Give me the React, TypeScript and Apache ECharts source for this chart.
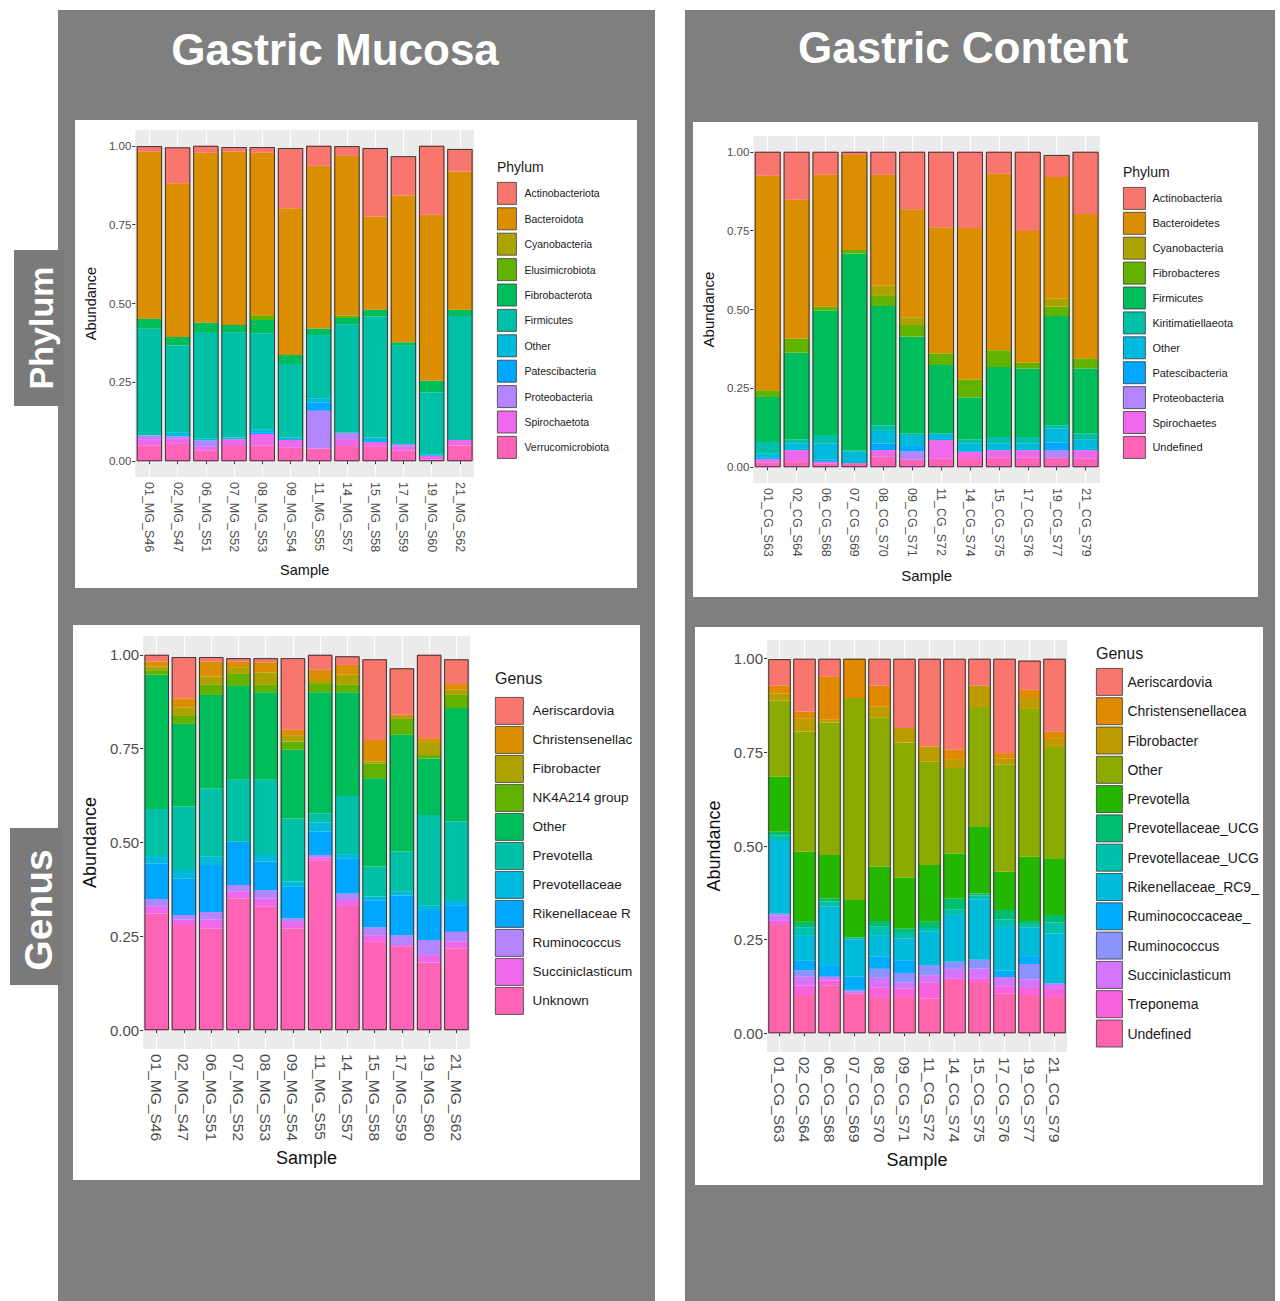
import React, { useEffect, useRef } from "react";
import * as echarts from "echarts";

const FONT = '"Liberation Sans", Arial, Helvetica, sans-serif';

// ---------- samples ----------
const mucosaSamples = [
  "01_MG_S46", "02_MG_S47", "06_MG_S51", "07_MG_S52", "08_MG_S53", "09_MG_S54",
  "11_MG_S55", "14_MG_S57", "15_MG_S58", "17_MG_S59", "19_MG_S60", "21_MG_S62",
];
const contentSamples = [
  "01_CG_S63", "02_CG_S64", "06_CG_S68", "07_CG_S69", "08_CG_S70", "09_CG_S71",
  "11_CG_S72", "14_CG_S74", "15_CG_S75", "17_CG_S76", "19_CG_S77", "21_CG_S79",
];

// ---------- phylum, gastric mucosa ----------
const mucosaPhyla = [
  "Actinobacteriota", "Bacteroidota", "Cyanobacteria", "Elusimicrobiota", "Fibrobacterota",
  "Firmicutes", "Other", "Patescibacteria", "Proteobacteria", "Spirochaetota", "Verrucomicrobiota",
];
const mucosaPhylumValues = [
  [0.018, 0.114, 0.022, 0.014, 0.018, 0.191, 0.063, 0.031, 0.217, 0.125, 0.219, 0.072],
  [0.529, 0.487, 0.539, 0.55, 0.515, 0.465, 0.516, 0.506, 0.296, 0.465, 0.526, 0.438],
  [0, 0, 0, 0, 0, 0, 0, 0, 0, 0, 0, 0],
  [0, 0, 0, 0, 0.015, 0, 0, 0.008, 0, 0, 0, 0],
  [0.032, 0.027, 0.032, 0.023, 0.042, 0.029, 0.021, 0.02, 0.021, 0.011, 0.037, 0.02],
  [0.338, 0.275, 0.336, 0.334, 0.306, 0.233, 0.2, 0.344, 0.384, 0.312, 0.196, 0.393],
  [0, 0.013, 0.005, 0.005, 0.008, 0.008, 0.015, 0, 0.014, 0, 0.005, 0],
  [0, 0, 0, 0, 0.006, 0, 0.025, 0, 0, 0, 0, 0],
  [0.012, 0.008, 0.02, 0, 0, 0, 0.12, 0.02, 0, 0.008, 0, 0],
  [0.02, 0.016, 0.012, 0.022, 0.036, 0.024, 0, 0.022, 0.015, 0.012, 0.011, 0.017],
  [0.05, 0.055, 0.034, 0.048, 0.05, 0.043, 0.04, 0.048, 0.046, 0.034, 0.006, 0.05],
];

// ---------- phylum, gastric content ----------
const contentPhyla = [
  "Actinobacteria", "Bacteroidetes", "Cyanobacteria", "Fibrobacteres", "Firmicutes",
  "Kiritimatiellaeota", "Other", "Patescibacteria", "Proteobacteria", "Spirochaetes", "Undefined",
];
const contentPhylumValues = [
  [0.076, 0.152, 0.073, 0.01, 0.073, 0.182, 0.239, 0.242, 0.07, 0.251, 0.07, 0.197],
  [0.68, 0.44, 0.418, 0.301, 0.352, 0.343, 0.4, 0.48, 0.559, 0.418, 0.385, 0.458],
  [0, 0, 0, 0, 0.032, 0.024, 0, 0, 0, 0, 0.026, 0],
  [0.021, 0.045, 0.012, 0.012, 0.032, 0.037, 0.037, 0.057, 0.053, 0.018, 0.03, 0.032],
  [0.143, 0.275, 0.395, 0.623, 0.378, 0.307, 0.217, 0.133, 0.222, 0.217, 0.346, 0.206],
  [0.037, 0.012, 0.027, 0.005, 0.018, 0.005, 0, 0.012, 0.02, 0.02, 0.01, 0.02],
  [0.013, 0.022, 0.05, 0.036, 0.04, 0.035, 0.021, 0.027, 0.022, 0.022, 0.045, 0.033],
  [0.005, 0, 0.008, 0, 0.021, 0.017, 0, 0, 0, 0, 0.024, 0],
  [0, 0, 0, 0, 0, 0.025, 0, 0, 0, 0, 0.024, 0],
  [0.01, 0.035, 0.005, 0, 0.021, 0, 0.059, 0.02, 0.024, 0.024, 0, 0.027],
  [0.015, 0.019, 0.012, 0.013, 0.033, 0.025, 0.027, 0.029, 0.03, 0.03, 0.03, 0.027],
];

// ---------- genus, gastric mucosa ----------
const mucosaGenera = [
  "Aeriscardovia", "Christensenellaceae R-7 group", "Fibrobacter", "NK4A214 group", "Other",
  "Prevotella", "Prevotellaceae UCG-001", "Rikenellaceae RC9 gut group", "Ruminococcus",
  "Succiniclasticum", "Unknown",
];
const mucosaGenusValues = [
  [0.018, 0.11, 0.012, 0.009, 0.011, 0.191, 0.04, 0.023, 0.215, 0.124, 0.222, 0.066],
  [0.013, 0.024, 0.04, 0.015, 0.027, 0.016, 0.027, 0.026, 0.057, 0.009, 0.01, 0.015],
  [0.01, 0.023, 0.022, 0.018, 0.033, 0.015, 0.011, 0.027, 0.005, 0, 0.035, 0.014],
  [0.012, 0.021, 0.027, 0.032, 0.02, 0.022, 0.022, 0.02, 0.04, 0.044, 0.009, 0.035],
  [0.358, 0.22, 0.249, 0.25, 0.233, 0.183, 0.322, 0.276, 0.235, 0.311, 0.151, 0.302],
  [0.125, 0.169, 0.182, 0.165, 0.2, 0.168, 0.025, 0.155, 0.08, 0.107, 0.24, 0.209],
  [0.02, 0.023, 0.022, 0, 0.018, 0.014, 0.024, 0.011, 0.01, 0.01, 0.013, 0.014],
  [0.095, 0.097, 0.125, 0.115, 0.076, 0.084, 0.062, 0.094, 0.072, 0.106, 0.08, 0.071],
  [0.02, 0.012, 0.02, 0.018, 0.022, 0.01, 0.006, 0.017, 0.021, 0.026, 0.04, 0.026],
  [0.018, 0.015, 0.024, 0.018, 0.022, 0.017, 0.008, 0.016, 0.017, 0.003, 0.02, 0.018],
  [0.311, 0.28, 0.271, 0.351, 0.329, 0.271, 0.453, 0.331, 0.236, 0.224, 0.18, 0.218],
];

// ---------- genus, gastric content ----------
const contentGenera = [
  "Aeriscardovia", "Christensenellaceae_R-7_group", "Fibrobacter", "Other", "Prevotella",
  "Prevotellaceae_UCG-001", "Prevotellaceae_UCG-003", "Rikenellaceae_RC9_gut_group",
  "Ruminococcaceae_NK4A214_group", "Ruminococcus", "Succiniclasticum", "Treponema", "Undefined",
];
const contentGenusValues = [
  [0.071, 0.141, 0.047, 0, 0.072, 0.185, 0.234, 0.243, 0.072, 0.252, 0.078, 0.194],
  [0.021, 0.018, 0.116, 0.105, 0.056, 0, 0, 0.025, 0, 0.015, 0.022, 0.02],
  [0.019, 0.035, 0.007, 0, 0.028, 0.039, 0.041, 0.024, 0.057, 0.016, 0.029, 0.022],
  [0.203, 0.321, 0.354, 0.539, 0.399, 0.36, 0.276, 0.228, 0.318, 0.286, 0.395, 0.297],
  [0.147, 0.187, 0.116, 0.1, 0.145, 0.136, 0.151, 0.12, 0.18, 0.102, 0.171, 0.151],
  [0.01, 0.015, 0.008, 0, 0.015, 0.012, 0.017, 0.03, 0.005, 0.025, 0.008, 0.02],
  [0.012, 0.021, 0.014, 0.005, 0.023, 0.015, 0.01, 0.014, 0.01, 0.02, 0.01, 0.03],
  [0.196, 0.067, 0.156, 0.1, 0.057, 0.058, 0.089, 0.125, 0.162, 0.116, 0.076, 0.133],
  [0, 0.027, 0.031, 0.035, 0.033, 0.034, 0, 0, 0, 0.018, 0.021, 0],
  [0.005, 0.016, 0, 0.005, 0.024, 0.026, 0.027, 0.019, 0.023, 0, 0.041, 0],
  [0.015, 0.024, 0.01, 0.005, 0.025, 0.015, 0.02, 0.025, 0.026, 0.026, 0.023, 0.015],
  [0.011, 0.026, 0.013, 0, 0.026, 0.023, 0.042, 0.005, 0.01, 0.018, 0.019, 0.021],
  [0.289, 0.102, 0.128, 0.106, 0.097, 0.097, 0.093, 0.142, 0.137, 0.106, 0.102, 0.097],
];

// y-axis ticks
const abundanceTicks = [0, 0.25, 0.5, 0.75, 1];

// ggplot2 default hue palettes
const hue11 = [
  "#F8766D", "#DB8E00", "#AEA200", "#64B200", "#00BD5C", "#00C1A7",
  "#00BADE", "#00A6FF", "#B385FF", "#EF67EB", "#FF63B6",
];
const hue13 = [
  "#F8766D", "#E18A00", "#BE9C00", "#8CAB00", "#24B700", "#00BE70", "#00C1AB",
  "#00BBDA", "#00ACFC", "#8B93FF", "#D575FE", "#F962DD", "#FF65AC",
];

interface Layout {
  box: { left: number; top: number; width: number; height: number };
  grid: { left: number; top: number; width: number; height: number };
  tickFont: number;
  xLabelFont: number;
  nameFont: number;
  xNameGap: number;
  yNameGap: number;
  legendLeft: number;
  legendTop: number;
  keyW: number;
  keyH: number;
  keyGap: number;
  legendFont: number;
  legendPad: number;
  legendTextWidth: number;
  legendTitleTop: number;
  legendTitleFont: number;
}

interface PanelSpec {
  samples: string[];
  taxa: string[];
  values: number[][];
  colors: string[];
  legendTitle: string;
  layout: Layout;
}

function panelOption(p: PanelSpec): any {
  const L = p.layout;
  const totals = p.samples.map((_, i) =>
    Number(p.values.reduce((s, row) => s + row[i], 0).toFixed(4))
  );
  const series: any[] = [];
  // first taxon sits on top of the stack, so push from the last one
  for (let k = p.taxa.length - 1; k >= 0; k--) {
    series.push({
      type: "bar",
      name: p.taxa[k],
      stack: "abundance",
      data: p.values[k],
      barCategoryGap: "10%",
      barGap: "-100%",
      itemStyle: { color: p.colors[k] },
      emphasis: { disabled: true },
    });
  }
  // dark outline around each full bar
  series.push({
    type: "bar",
    name: "outline",
    data: totals,
    barCategoryGap: "10%",
    barGap: "-100%",
    silent: true,
    z: 3,
    itemStyle: { color: "rgba(0,0,0,0)", borderColor: "#3a3a3a", borderWidth: 1 },
    emphasis: { disabled: true },
  });

  return {
    animation: false,
    backgroundColor: "#ffffff",
    textStyle: { fontFamily: FONT },
    title: {
      text: p.legendTitle,
      left: L.legendLeft,
      top: L.legendTitleTop,
      padding: 0,
      textStyle: { fontFamily: FONT, fontSize: L.legendTitleFont, fontWeight: "normal", color: "#1a1a1a" },
    },
    legend: {
      orient: "vertical",
      left: L.legendLeft,
      top: L.legendTop,
      padding: 0,
      icon: "rect",
      itemWidth: L.keyW,
      itemHeight: L.keyH,
      itemGap: L.keyGap,
      selectedMode: false,
      data: p.taxa,
      itemStyle: { borderColor: "#3a3a3a", borderWidth: 0.8 },
      textStyle: {
        fontFamily: FONT,
        fontSize: L.legendFont,
        color: "#1a1a1a",
        padding: [0, 0, 0, L.legendPad],
        width: L.legendTextWidth,
        overflow: "truncate",
        ellipsis: "",
      },
    },
    grid: {
      left: L.grid.left,
      top: L.grid.top,
      width: L.grid.width,
      height: L.grid.height,
      show: true,
      backgroundColor: "#EBEBEB",
      borderWidth: 0,
    },
    xAxis: {
      type: "category",
      data: p.samples,
      name: "Sample",
      nameLocation: "middle",
      nameGap: L.xNameGap,
      nameTextStyle: { fontFamily: FONT, fontSize: L.nameFont, color: "#111" },
      axisLine: { show: false },
      axisTick: { show: true, alignWithLabel: true, length: 3, lineStyle: { color: "#333" } },
      axisLabel: { rotate: -90, interval: 0, margin: 5, fontSize: L.xLabelFont, color: "#4D4D4D" },
      splitLine: { show: true, alignWithLabel: true, lineStyle: { color: "#ffffff", width: 1 } },
    },
    yAxis: {
      type: "value",
      min: -0.05,
      max: 1.05,
      name: "Abundance",
      nameLocation: "middle",
      nameRotate: 90,
      nameGap: L.yNameGap,
      nameTextStyle: { fontFamily: FONT, fontSize: L.nameFont, color: "#111" },
      axisLine: { show: false },
      axisTick: { show: true, length: 3, customValues: abundanceTicks, lineStyle: { color: "#333" } },
      axisLabel: {
        customValues: abundanceTicks,
        margin: 4,
        fontSize: L.tickFont,
        color: "#4D4D4D",
        formatter: (v: number) => v.toFixed(2),
      },
      splitLine: { show: false },
    },
    series,
  };
}

const panels: PanelSpec[] = [
  {
    samples: mucosaSamples,
    taxa: mucosaPhyla,
    values: mucosaPhylumValues,
    colors: hue11,
    legendTitle: "Phylum",
    layout: {
      box: { left: 75, top: 120, width: 562, height: 468 },
      grid: { left: 57, top: 10, width: 342, height: 347 },
      tickFont: 11.5, xLabelFont: 12.5, nameFont: 14.5,
      xNameGap: 85, yNameGap: 34,
      legendLeft: 422, legendTop: 62, keyW: 19, keyH: 22, keyGap: 2.6,
      legendFont: 10.5, legendPad: 3, legendTextWidth: 110,
      legendTitleTop: 40, legendTitleFont: 14,
    },
  },
  {
    samples: contentSamples,
    taxa: contentPhyla,
    values: contentPhylumValues,
    colors: hue11,
    legendTitle: "Phylum",
    layout: {
      box: { left: 693, top: 122, width: 565, height: 475 },
      grid: { left: 59, top: 14, width: 348, height: 347 },
      tickFont: 11.5, xLabelFont: 12.5, nameFont: 15,
      xNameGap: 85, yNameGap: 36,
      legendLeft: 430, legendTop: 65, keyW: 22, keyH: 22, keyGap: 2.1,
      legendFont: 11, legendPad: 2, legendTextWidth: 110,
      legendTitleTop: 43, legendTitleFont: 14,
    },
  },
  {
    samples: mucosaSamples,
    taxa: mucosaGenera,
    values: mucosaGenusValues,
    colors: hue11,
    legendTitle: "Genus",
    layout: {
      box: { left: 73, top: 625, width: 567, height: 555 },
      grid: { left: 70, top: 11, width: 327, height: 413 },
      tickFont: 15, xLabelFont: 15.5, nameFont: 18,
      xNameGap: 99, yNameGap: 44,
      legendLeft: 422, legendTop: 72, keyW: 28, keyH: 27, keyGap: 1.2,
      legendFont: 13.5, legendPad: 4, legendTextWidth: 104,
      legendTitleTop: 45, legendTitleFont: 16,
    },
  },
  {
    samples: contentSamples,
    taxa: contentGenera,
    values: contentGenusValues,
    colors: hue13,
    legendTitle: "Genus",
    layout: {
      box: { left: 695, top: 627, width: 568, height: 558 },
      grid: { left: 72, top: 13, width: 300, height: 412 },
      tickFont: 15, xLabelFont: 15.5, nameFont: 18,
      xNameGap: 99, yNameGap: 44,
      legendLeft: 401, legendTop: 41, keyW: 26, keyH: 27, keyGap: 1.5,
      legendFont: 14, legendPad: 0, legendTextWidth: 134,
      legendTitleTop: 18, legendTitleFont: 16,
    },
  },
];

// gray backdrop, column titles and row tabs
const backdropOption: any = {
  animation: false,
  backgroundColor: "#ffffff",
  graphic: [
    { type: "rect", shape: { x: 58, y: 10, width: 597, height: 1291 }, style: { fill: "#7F7F7F" } },
    { type: "rect", shape: { x: 685, y: 10, width: 590, height: 1291 }, style: { fill: "#7F7F7F" } },
    { type: "rect", shape: { x: 14, y: 250, width: 50, height: 156 }, style: { fill: "#7A7A7A" } },
    { type: "rect", shape: { x: 10, y: 828, width: 52, height: 157 }, style: { fill: "#7A7A7A" } },
    {
      type: "text", x: 335, y: 49,
      style: { text: "Gastric Mucosa", fill: "#ffffff", fontFamily: FONT, fontWeight: "bold", fontSize: 44, align: "center", verticalAlign: "middle" },
    },
    {
      type: "text", x: 963, y: 47,
      style: { text: "Gastric Content", fill: "#ffffff", fontFamily: FONT, fontWeight: "bold", fontSize: 44, align: "center", verticalAlign: "middle" },
    },
    {
      type: "text", x: 41, y: 328, rotation: Math.PI / 2,
      style: { text: "Phylum", fill: "#ffffff", fontFamily: FONT, fontWeight: "bold", fontSize: 34, align: "center", verticalAlign: "middle" },
    },
    {
      type: "text", x: 38, y: 910, rotation: Math.PI / 2,
      style: { text: "Genus", fill: "#ffffff", fontFamily: FONT, fontWeight: "bold", fontSize: 39, align: "center", verticalAlign: "middle" },
    },
  ],
};

function EChart({ option, style }: { option: any; style: React.CSSProperties }) {
  const ref = useRef<HTMLDivElement>(null);
  useEffect(() => {
    if (!ref.current) return;
    const chart = echarts.init(ref.current, undefined, { renderer: "svg" });
    chart.setOption(option);
    return () => chart.dispose();
  }, [option]);
  return <div ref={ref} style={{ ...style, overflow: "hidden" }} />;
}

export default function App() {
  return (
    <div style={{ position: "absolute", left: 0, top: 0, width: 1280, height: 1301, background: "#fff" }}>
      <EChart option={backdropOption} style={{ position: "absolute", left: 0, top: 0, width: 1280, height: 1301 }} />
      {panels.map((p, i) => (
        <EChart
          key={i}
          option={panelOption(p)}
          style={{
            position: "absolute",
            left: p.layout.box.left,
            top: p.layout.box.top,
            width: p.layout.box.width,
            height: p.layout.box.height,
          }}
        />
      ))}
    </div>
  );
}
